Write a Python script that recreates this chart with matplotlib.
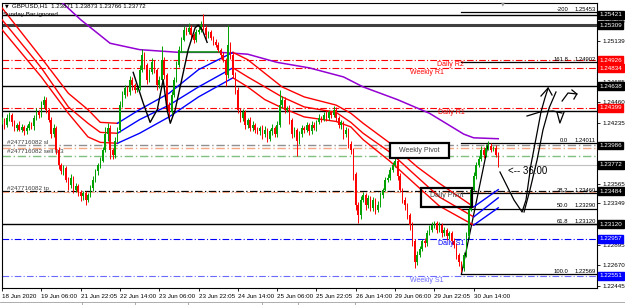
import matplotlib
matplotlib.use("Agg")
import matplotlib.pyplot as plt
from matplotlib.patches import Rectangle
from matplotlib.lines import Line2D
import numpy as np

plt.rcParams["font.family"] = ["Liberation Sans", "DejaVu Sans"]

# ---- data (H1 bars, index 0 = 18 Jun 2020) ----
first_open = 1.2425
closes = [
    1.2427, 1.2421, 1.2429, 1.2432, 1.2424, 1.2418, 1.2421, 1.2416, 1.2419, 1.2414, 1.2418, 1.2422, 1.2420, 1.2429, 1.2435, 1.2432,
    1.2443, 1.2449, 1.2438, 1.2427, 1.2411, 1.2418, 1.2394, 1.2377, 1.2370, 1.2374, 1.2361, 1.2355, 1.2363, 1.2350, 1.2354, 1.2347,
    1.2343, 1.2346, 1.2339, 1.2344, 1.2352, 1.2361, 1.2370, 1.2377, 1.2382, 1.2394, 1.2411, 1.2418, 1.2394, 1.2388, 1.2404, 1.2416,
    1.2443, 1.2454, 1.2462, 1.2457, 1.2471, 1.2465, 1.2460, 1.2462, 1.2482, 1.2498, 1.2487, 1.2471, 1.2479, 1.2490, 1.2482, 1.2465,
    1.2471, 1.2493, 1.2476, 1.2443, 1.2435, 1.2454, 1.2471, 1.2487, 1.2504, 1.2515, 1.2526, 1.2523, 1.2528, 1.2520, 1.2515, 1.2523,
    1.2526, 1.2531, 1.2528, 1.2520, 1.2523, 1.2517, 1.2512, 1.2509, 1.2504, 1.2498, 1.2493, 1.2476, 1.2509, 1.2498, 1.2476, 1.2460,
    1.2438, 1.2429, 1.2435, 1.2421, 1.2427, 1.2418, 1.2421, 1.2416, 1.2414, 1.2418, 1.2411, 1.2416, 1.2406, 1.2414, 1.2418, 1.2411,
    1.2421, 1.2443, 1.2449, 1.2438, 1.2440, 1.2427, 1.2411, 1.2416, 1.2404, 1.2411, 1.2418, 1.2416, 1.2421, 1.2414, 1.2421, 1.2418,
    1.2424, 1.2429, 1.2427, 1.2432, 1.2429, 1.2435, 1.2432, 1.2438, 1.2429, 1.2421, 1.2424, 1.2411, 1.2416, 1.2400, 1.2394, 1.2367,
    1.2333, 1.2322, 1.2339, 1.2344, 1.2333, 1.2341, 1.2330, 1.2339, 1.2328, 1.2333, 1.2344, 1.2350, 1.2361, 1.2363, 1.2372, 1.2377,
    1.2382, 1.2365, 1.2350, 1.2339, 1.2333, 1.2322, 1.2311, 1.2294, 1.2270, 1.2278, 1.2285, 1.2294, 1.2291, 1.2302, 1.2306, 1.2311,
    1.2313, 1.2306, 1.2311, 1.2302, 1.2306, 1.2299, 1.2302, 1.2294, 1.2289, 1.2278, 1.2270, 1.2264, 1.2278, 1.2299, 1.2328, 1.2350,
    1.2365, 1.2377, 1.2384, 1.2394, 1.2388, 1.2396, 1.2398, 1.2394, 1.2396, 1.2388, 1.23772,
]
# wick lengths in pips above / below the body
upper_wick = [
    3, 2, 4, 3, 2, 3, 2, 4, 3, 2, 3, 4, 2, 3, 5, 3,
    4, 4, 3, 2, 3, 4, 2, 3, 2, 3, 2, 3, 4, 2, 3, 2,
    3, 2, 3, 2, 3, 4, 3, 2, 4, 3, 8, 5, 3, 2, 4, 3,
    5, 4, 3, 2, 4, 3, 2, 3, 5, 7, 3, 2, 4, 5, 3, 2,
    4, 15, 3, 2, 3, 4, 3, 5, 4, 3, 4, 3, 5, 3, 2, 4,
    3, 4, 12, 3, 2, 3, 2, 4, 3, 2, 3, 2, 22, 3, 2, 3,
    3, 2, 4, 3, 2, 3, 4, 2, 3, 2, 3, 4, 2, 3, 4, 2,
    5, 17, 4, 3, 2, 3, 2, 3, 2, 4, 3, 2, 3, 2, 4, 3,
    3, 4, 2, 3, 5, 3, 2, 4, 3, 2, 3, 2, 3, 2, 3, 2,
    2, 3, 4, 3, 2, 3, 2, 3, 2, 4, 3, 2, 3, 4, 3, 3,
    5, 2, 3, 2, 3, 2, 2, 3, 2, 4, 3, 2, 3, 4, 5, 3,
    3, 2, 3, 2, 3, 2, 3, 2, 3, 2, 2, 2, 3, 4, 3, 3,
    4, 3, 3, 4, 3, 4, 5, 3, 2, 3, 3,
]
lower_wick = [
    3, 4, 2, 3, 4, 3, 4, 2, 3, 4, 3, 2, 3, 4, 2, 3,
    2, 3, 4, 3, 4, 3, 5, 4, 3, 4, 3, 5, 3, 4, 3, 4,
    5, 4, 6, 3, 2, 3, 3, 4, 3, 2, 3, 8, 10, 4, 3, 2,
    3, 2, 3, 4, 3, 5, 4, 3, 2, 3, 4, 5, 3, 2, 4, 5,
    3, 2, 4, 5, 7, 3, 2, 3, 2, 3, 2, 3, 2, 3, 4, 3,
    2, 3, 2, 4, 3, 2, 3, 2, 3, 4, 3, 12, 3, 4, 3, 5,
    4, 5, 3, 4, 3, 4, 3, 4, 3, 4, 5, 3, 4, 3, 4, 3,
    3, 2, 3, 4, 3, 5, 4, 3, 17, 4, 3, 4, 3, 4, 3, 2,
    3, 2, 3, 2, 3, 2, 3, 2, 4, 3, 4, 5, 3, 4, 5, 6,
    5, 9, 4, 3, 5, 3, 4, 3, 5, 3, 2, 3, 2, 3, 2, 3,
    2, 4, 3, 4, 5, 4, 5, 6, 6, 3, 2, 3, 4, 3, 2, 3,
    3, 4, 3, 4, 3, 4, 3, 4, 3, 4, 4, 5, 3, 2, 3, 2,
    2, 3, 2, 2, 3, 2, 2, 3, 2, 2, 2,
]

time_labels = ["18 Jun 2020", "19 Jun 06:00", "21 Jun 22:05", "22 Jun 14:00", "23 Jun 06:00",
               "23 Jun 22:05", "24 Jun 14:00", "25 Jun 06:00", "25 Jun 22:05", "26 Jun 14:00",
               "29 Jun 06:00", "29 Jun 22:05", "30 Jun 14:00"]
price_ticks = [1.25355, 1.25139, 1.24685, 1.24460, 1.24235, 1.23565, 1.23349, 1.22895, 1.22670, 1.22445]

# moving average (purple, green while price held above it)
ma_idx = [18, 24, 32, 44, 56, 72, 89, 100, 112, 125, 139, 147, 161, 174, 188, 192, 202]
ma_val = [1.2570, 1.2557, 1.2537, 1.2511, 1.2504, 1.2501, 1.2501, 1.2499, 1.2490, 1.2484,
          1.2474, 1.2463, 1.2449, 1.2434, 1.2411, 1.2407, 1.2406]
ma_green = (72, 89)

# three-line band, red while falling, blue while rising
band_idx = [0, 16, 27, 35, 40, 47, 56, 68, 80, 94, 100, 107, 114, 123, 136, 142, 147, 158, 169, 178, 192, 202]
band_top = [1.2550, 1.2495, 1.2456, 1.2438, 1.2424, 1.2423, 1.2438, 1.2456, 1.2482, 1.2501, 1.2493,
            1.2478, 1.2463, 1.2452, 1.2443, 1.2434, 1.2423, 1.2401, 1.2375, 1.2357, 1.2331, 1.2350]
band_mid = [1.2537, 1.2484, 1.2441, 1.2423, 1.2413, 1.2412, 1.2427, 1.2443, 1.2463, 1.2484, 1.2474,
            1.2463, 1.2452, 1.2441, 1.2435, 1.2424, 1.2412, 1.2391, 1.2364, 1.2342, 1.2320, 1.2341]
band_bot = [1.2526, 1.2474, 1.2434, 1.2408, 1.2402, 1.2401, 1.2412, 1.2430, 1.2452, 1.2473, 1.2463,
            1.2449, 1.2440, 1.2430, 1.2425, 1.2419, 1.2405, 1.2381, 1.2354, 1.2332, 1.2311, 1.2330]
band_turns = [0, 47, 94, 192, 202]   # segment borders
band_colors = ["#ff0000", "#0000ff", "#ff0000", "#0000ff"]

# fibonacci retracement
fib_names = ["-200", "161.8", "0.0", "38.2", "50.0", "61.8", "100.0"]
fib_prices = [1.25453, 1.24902, 1.24011, 1.23460, 1.23290, 1.23120, 1.22569]
fib_from = (187, 1.22569)
fib_to = (198, 1.24011)

# pivots
pivot_names = ["Daily R2", "Weekly R1", "Daily R1", "Daily S1", "Weekly S1"]
pivot_prices = [1.24926, 1.24834, 1.24399, 1.22957, 1.22551]
pivot_colors = ["#ff0000", "#ff0000", "#ff0000", "#0000ff", "#6a6aff"]
pivot_text_x = [177, 166, 177.5, 177.5, 166]

# plain horizontal lines
black_lines = [1.25421, 1.24638, 1.24370, 1.23120]
grey_thick = 1.25309

# order lines
sl_price = 1.23986
open_price = 1.23955
sell_price = 1.23870
tp_price = 1.23484
bid = 1.23772

# hand drawn strokes (bar index, price)
stroke_left_x = [53.4, 57.5, 60.3, 63.2, 65.6, 67.2, 68.5, 70.5, 73.4, 75.8, 78.6, 79.9, 81.5, 83.5]
stroke_left_y = [1.2479, 1.2445, 1.2424, 1.2438, 1.2471, 1.2438, 1.2423, 1.2438, 1.2474, 1.2504,
                 1.2528, 1.2531, 1.2526, 1.2512]
stroke_right = [
    ([202.7, 208.4, 211.7, 213.3, 215.3, 217.4, 219.4, 221.0, 222.3],
     [1.23694, 1.23386, 1.23254, 1.23386, 1.23771, 1.24068, 1.24354, 1.24508, 1.24618]),
    ([212.5, 214.9, 217.8, 220.2, 222.7, 225.5],
     [1.23254, 1.23496, 1.23826, 1.24156, 1.24398, 1.24574]),
    ([213.7, 219.0, 224.3, 227.9], [1.24310, 1.24354, 1.24365, 1.24343]),
    ([225.9, 227.1, 228.8], [1.24354, 1.24233, 1.24354]),
    ([219.4, 222.3, 223.9], [1.24530, 1.24618, 1.24541]),
    ([228.0, 230.4, 234.0], [1.24475, 1.24563, 1.24552]),
    ([232.0, 234.0, 232.8], [1.24596, 1.24552, 1.24497]),
]

# ---- figure ----
W, H = 625, 305
fig = plt.figure(figsize=(W / 100, H / 100), dpi=100)
ax = fig.add_axes([2 / W, 17 / H, 595 / W, 285 / H])
ax.set_xlim(0.1, 242.2)
ax.set_ylim(1.22418, 1.25553)

n = len(closes)
idx = np.arange(n)
c = np.array(closes)
o = np.array([first_open] + closes[:-1])
hi = np.maximum(o, c) + np.array(upper_wick) * 0.0001
lo = np.minimum(o, c) - np.array(lower_wick) * 0.0001
cols = np.where(c >= o, "#00a000", "#ff0000")

dashdot = (0, (6, 2, 1, 2))

# horizontal levels
for p in black_lines:
    ax.axhline(p, color="black", lw=1.0, zorder=1)
ax.axhline(grey_thick, color="#404040", lw=2.2, zorder=1)
for name, p, col, tx in zip(pivot_names, pivot_prices, pivot_colors, pivot_text_x):
    ax.axhline(p, color=col, lw=0.8, ls=dashdot, zorder=1)
    ax.text(tx, p - 0.00010, name, color=col, fontsize=5.0, va="top", ha="left", zorder=6)
ax.axhline(sl_price, color="#909090", lw=1.0, ls=dashdot, zorder=1)
ax.axhline(open_price, color="#f4a582", lw=1.0, ls=dashdot, zorder=1)
ax.axhline(sell_price, color="#80c080", lw=1.0, ls=dashdot, zorder=1)
ax.axhline(bid, color="#c0c0c0", lw=0.8, zorder=1)
ax.axhline(tp_price, color="black", lw=0.9, ls=dashdot, zorder=1)
ax.axhline(tp_price - 0.00012, color="#f4a582", lw=0.8, ls=dashdot, zorder=1)

ax.text(2, sl_price + 0.00003, "#247716082 sl", fontsize=4.5, color="#404040", va="bottom")
ax.text(2, sell_price + 0.00018, "#247716082 sell 0.3", fontsize=4.5, color="#404040", va="bottom")
ax.text(2, tp_price + 0.00005, "#247716082 tp", fontsize=4.5, color="#404040", va="bottom")

# fibonacci
for name, p in zip(fib_names, fib_prices):
    ax.plot([fib_from[0], 243], [p, p], color="black", lw=0.9, zorder=2)
    ax.text(230.5, p + 0.00004, name, fontsize=4.2, ha="right", va="bottom", zorder=6)
    ax.text(241.8, p + 0.00004, f"{p:.5f}", fontsize=4.2, ha="right", va="bottom", zorder=6)
ax.plot([fib_from[0], fib_to[0]], [fib_from[1], fib_to[1]], color="black", lw=0.9, zorder=2)

# indicators
ax.plot(ma_idx, ma_val, color="#9400d3", lw=1.1, zorder=3)
g0, g1 = ma_green
gx = [x for x in ma_idx if g0 <= x <= g1]
gy = [v for x, v in zip(ma_idx, ma_val) if g0 <= x <= g1]
ax.plot(gx, gy, color="#00a000", lw=1.1, zorder=3)
for k in range(len(band_turns) - 1):
    a, b = band_turns[k], band_turns[k + 1]
    sel = [j for j, x in enumerate(band_idx) if a <= x <= b]
    xs = [band_idx[j] for j in sel]
    for line in (band_top, band_mid, band_bot):
        ax.plot(xs, [line[j] for j in sel], color=band_colors[k], lw=1.0, zorder=3)

# candles
ax.vlines(idx, lo, hi, colors=cols, lw=0.7, zorder=4)
body = np.maximum(np.abs(c - o), 0.00003)
ax.bar(idx, body, bottom=np.minimum(o, c), width=0.6, color=cols, linewidth=0, zorder=4)

# hand drawings
ax.plot(stroke_left_x, stroke_left_y, color="black", lw=1.0, zorder=5)
for xs, ys in stroke_right:
    ax.plot(xs, ys, color="black", lw=0.9, zorder=5)
ax.text(206, 1.23705, "<-- 36:00", fontsize=7, va="center", ha="left", zorder=6)

# pivot boxes
ax.add_patch(Rectangle((158, 1.23848), 24, 0.00165, facecolor="white", edgecolor="black", lw=1.6, zorder=6))
ax.text(170, 1.23930, "Weekly Pivot", fontsize=5.0, color="#404040", ha="center", va="center", zorder=7)
ax.add_patch(Rectangle((170.6, 1.23309), 20.7, 0.00209, facecolor="none", edgecolor="black", lw=1.6, zorder=6))
ax.text(181, 1.23440, "Daily Pivot", fontsize=5.0, color="#404040", ha="center", va="center", zorder=7)

# header
fig.text(5 / W, 1 - 6 / H, "\u25bc", fontsize=3.5, va="center", family="DejaVu Sans")
fig.text(12 / W, 1 - 6 / H, "GBPUSD,H1  1.23871 1.23873 1.23766 1.23772", fontsize=4.4, va="center")
fig.text(3 / W, 1 - 14.5 / H, "Sunday Bar ignored", fontsize=4.5, va="center")
fig.text(503 / W, 1 - 4 / H, "\u25bc", fontsize=3.5, color="#909090", ha="center", va="center",
         family="DejaVu Sans")

# bottom tab strip
fig.add_artist(Line2D([0, 1], [1 - 302 / H, 1 - 302 / H], color="#a0a0a0", lw=0.6))
for tx in [82, 135, 188, 262, 298, 355]:
    fig.add_artist(Line2D([tx / W, tx / W], [0, 1 - 302 / H], color="#a0a0a0", lw=0.6))

# axes
ax.set_xticks(np.arange(len(time_labels)) * 16)
ax.set_xticklabels(time_labels, fontsize=4.5, ha="left")
ax.yaxis.tick_right()
ax.set_yticks(price_ticks)
ax.set_yticklabels([f"{p:.5f}" for p in price_ticks], fontsize=4.5)
ax.tick_params(axis="both", length=2.5, width=0.6, pad=1.5)
for s in ax.spines.values():
    s.set_color("black")
    s.set_linewidth(0.8)

box_prices = [1.25421, 1.25309, 1.24926, 1.24834, 1.24638, 1.24399, 1.23986, 1.23772, 1.23484, 1.23120, 1.22957, 1.22551]
box_colors = ["black", "black", "#ff0000", "#ff0000", "black", "#ff0000", "black", "black", "black", "black", "#0000ff", "#0000ff"]
for p, col in zip(box_prices, box_colors):
    ax.text(1.004, p, f"{p:.5f}", transform=ax.get_yaxis_transform(), fontsize=4.5, color="white",
            va="center", ha="left", bbox=dict(boxstyle="square,pad=0.22", fc=col, ec=col), zorder=8)

fig.savefig("out.png", dpi=100)
